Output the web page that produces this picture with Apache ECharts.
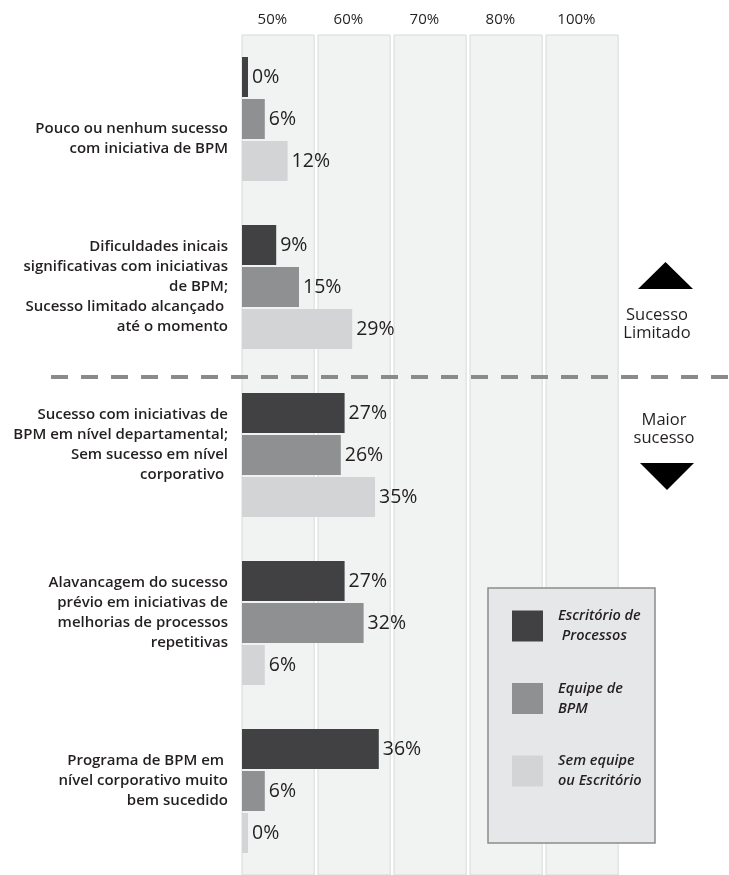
<!DOCTYPE html>
<html>
<head>
<meta charset="utf-8">
<script src="https://cdn.jsdelivr.net/npm/echarts@6/dist/echarts.min.js"></script>
<style>
html,body{margin:0;padding:0;background:#fff;}
#chart{width:729px;height:875px;}
</style>
</head>
<body>
<div id="chart"></div>
<script>
// ---- data ----
const categories = [
  'Pouco ou nenhum sucesso\ncom iniciativa de BPM',
  'Dificuldades inicais\nsignificativas com iniciativas\nde BPM;\nSucesso limitado alcançado \naté o momento',
  'Sucesso com iniciativas de\nBPM em nível departamental;\nSem sucesso em nível\ncorporativo ',
  'Alavancagem do sucesso\nprévio em iniciativas de\nmelhorias de processos\nrepetitivas',
  'Programa de BPM em \nnível corporativo muito\nbem sucedido'
];
const seriesNames = ['Escritório de\n Processos', 'Equipe de\nBPM', 'Sem equipe\nou Escritório'];
const escritorio = [0, 9, 27, 27, 36];
const equipe = [6, 15, 26, 32, 6];
const semEquipe = [12, 29, 35, 6, 0];
const topTickLabels = ['50%', '60%', '70%', '80%', '100%'];
const topTickValues = [8, 28, 48, 68, 88];
const bands = [[0, 19], [20, 39], [40, 59], [60, 79], [80, 99]];

// ---- style ----
const FONT = '"Open Sans", "Noto Sans", sans-serif';
const TXT = '#231f20';
const colors = ['#414042', '#8f9092', '#d3d4d6'];
const labelPre = ['\n\n', '', '', '', ''];
const labelPost = ['', '', '\n', '\n', '\n'];

const chart = echarts.init(document.getElementById('chart'), null, {renderer: 'canvas'});

function barSeries(name, data, idx, extra) {
  return Object.assign({
    name: name,
    type: 'bar',
    data: data,
    barWidth: 40,
    barGap: '5%',
    barMinHeight: 6,
    itemStyle: {color: colors[idx]},
    label: {
      show: true, position: 'right', distance: 4,
      formatter: '{c}%', fontFamily: FONT, fontSize: 19.5, color: TXT
    },
    emphasis: {disabled: true}
  }, extra || {});
}

const option = {
  animation: false,
  backgroundColor: '#fff',
  grid: {left: 242, width: 380, top: 35, height: 850},
  xAxis: {
    type: 'value', min: 0, max: 100, interval: 4, position: 'top',
    axisLine: {show: false}, axisTick: {show: false}, splitLine: {show: false},
    axisLabel: {
      show: true, margin: 8, fontFamily: FONT, fontSize: 15, fontWeight: 500, color: TXT,
      formatter: function (v) {
        const i = topTickValues.indexOf(v);
        return i >= 0 ? topTickLabels[i] : '';
      }
    }
  },
  yAxis: {
    type: 'category', inverse: true, data: categories,
    axisLine: {show: false}, axisTick: {show: false},
    axisLabel: {
      margin: 14, fontFamily: FONT, fontSize: 15, fontWeight: 600, color: TXT,
      lineHeight: 20, align: 'right',
      formatter: function (v, i) { return labelPre[i] + v + labelPost[i]; }
    }
  },
  legend: {
    orient: 'vertical', left: 512, top: 606, z: 10, padding: 0,
    itemWidth: 31, itemHeight: 31, itemGap: 32.5, icon: 'rect',
    selectedMode: false,
    textStyle: {fontFamily: FONT, fontSize: 14.5, fontStyle: 'italic', fontWeight: 600,
      color: TXT, lineHeight: 20, padding: [0, 0, 0, 10]},
    data: seriesNames
  },
  graphic: [
    {type: 'rect', z: 5, shape: {x: 488, y: 588, width: 167, height: 255},
      style: {fill: '#e6e7e8', stroke: '#8c8c8c', lineWidth: 1.5}},
    {type: 'line', z: 6, shape: {x1: 51, y1: 377, x2: 729, y2: 377},
      style: {stroke: '#8a8a8a', lineWidth: 4, lineDash: [17, 13]}},
    {type: 'polygon', z: 6, shape: {points: [[638, 289], [693, 289], [665.5, 262]]}, style: {fill: '#000'}},
    {type: 'polygon', z: 6, shape: {points: [[640, 463], [694, 463], [667, 490]]}, style: {fill: '#000'}},
    {type: 'text', z: 6, style: {x: 657, y: 324, text: 'Sucesso\nLimitado', align: 'center', verticalAlign: 'middle',
      fontFamily: FONT, fontSize: 16.5, lineHeight: 18, fill: TXT}},
    {type: 'text', z: 6, style: {x: 664, y: 429, text: 'Maior\nsucesso', align: 'center', verticalAlign: 'middle',
      fontFamily: FONT, fontSize: 16.5, lineHeight: 18, fill: TXT}}
  ],
  series: [
    barSeries(seriesNames[0], escritorio, 0, {
      markArea: {
        silent: true,
        itemStyle: {color: '#f1f3f2', borderColor: '#d9d9d9', borderWidth: 1},
        data: bands.map(b => [{xAxis: b[0]}, {xAxis: b[1]}])
      }
    }),
    barSeries(seriesNames[1], equipe, 1),
    barSeries(seriesNames[2], semEquipe, 2)
  ]
};
chart.setOption(option);
</script>
</body>
</html>
